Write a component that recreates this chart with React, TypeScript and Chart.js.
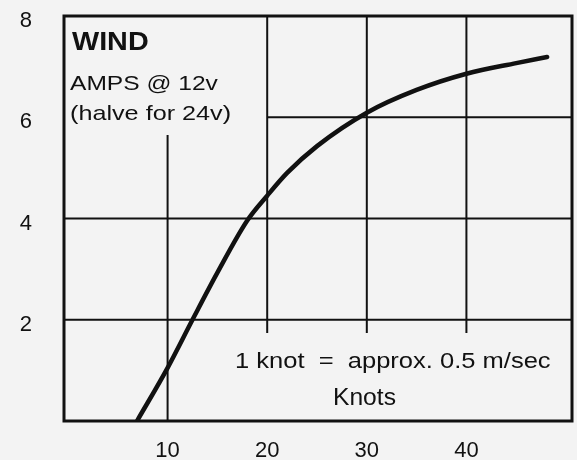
import { useEffect, useRef } from "react";
import { Chart, registerables } from "chart.js";

Chart.register(...registerables);

// ---- data ----
const windKnots = [6.93, 10, 12.5, 15, 18, 20, 22, 25, 30, 35, 40, 45, 48.1];
const ampsAt12v = [0, 1.05, 2.0, 2.93, 3.96, 4.45, 4.9, 5.43, 6.09, 6.54, 6.86, 7.07, 7.19];
const xTickValues = [10, 20, 30, 40];
const yTickValues = [2, 4, 6, 8];
const titleText = "WIND";
const unitLines = ["AMPS @ 12v", "(halve for 24v)"];
const conversionNote = "1 knot  =  approx. 0.5 m/sec";
const xAxisTitle = "Knots";

const INK = "#111111";
const FONT = "'Liberation Sans', Arial, Helvetica, sans-serif";

function drawStretched(
  ctx: CanvasRenderingContext2D,
  text: string,
  x: number,
  baseline: number,
  font: string,
  sx: number
) {
  ctx.save();
  ctx.font = font;
  ctx.fillStyle = INK;
  ctx.textAlign = "left";
  ctx.textBaseline = "alphabetic";
  ctx.translate(x, baseline);
  ctx.scale(sx, 1);
  ctx.fillText(text, 0, 0);
  ctx.restore();
}

const gridPlugin = {
  id: "partialGrid",
  beforeDatasetsDraw(chart: any) {
    const { ctx, chartArea, scales } = chart;
    const xs = scales.x;
    const ys = scales.y;
    const xMin = xs.min;
    const xMax = xs.max;
    ctx.save();
    ctx.strokeStyle = INK;
    ctx.lineWidth = 2;
    const vSegs = [
      { v: 10, a: 0, b: 5.65 },
      { v: 20, a: 1.74, b: 8 },
      { v: 30, a: 1.74, b: 8 },
      { v: 40, a: 1.74, b: 8 },
    ];
    const hSegs = [
      { v: 2, a: xMin, b: xMax },
      { v: 4, a: xMin, b: xMax },
      { v: 6, a: 20, b: xMax },
    ];
    vSegs.forEach((s) => {
      const px = xs.getPixelForValue(s.v);
      ctx.beginPath();
      ctx.moveTo(px, ys.getPixelForValue(s.a));
      ctx.lineTo(px, ys.getPixelForValue(s.b));
      ctx.stroke();
    });
    hSegs.forEach((s) => {
      const py = ys.getPixelForValue(s.v);
      ctx.beginPath();
      ctx.moveTo(xs.getPixelForValue(s.a), py);
      ctx.lineTo(xs.getPixelForValue(s.b), py);
      ctx.stroke();
    });
    ctx.lineWidth = 3;
    ctx.strokeRect(
      chartArea.left,
      chartArea.top,
      chartArea.right - chartArea.left,
      chartArea.bottom - chartArea.top
    );
    ctx.restore();
  },
  afterDraw(chart: any) {
    const { ctx, chartArea } = chart;
    const L = chartArea.left;
    const T = chartArea.top;
    drawStretched(ctx, titleText, L + 8, T + 34, `bold 25px ${FONT}`, 1.15);
    drawStretched(ctx, unitLines[0], L + 6, T + 74, `21px ${FONT}`, 1.17);
    drawStretched(ctx, unitLines[1], L + 6, T + 104, `21px ${FONT}`, 1.2);
    drawStretched(ctx, conversionNote, L + 171, T + 352, `22px ${FONT}`, 1.16);
    drawStretched(ctx, xAxisTitle, L + 269, T + 389, `23px ${FONT}`, 1.07);
  },
};

const bgPlugin = {
  id: "bg",
  beforeDraw(chart: any) {
    const { ctx, width, height } = chart;
    ctx.save();
    ctx.fillStyle = "#f3f3f3";
    ctx.fillRect(0, 0, width, height);
    ctx.restore();
  },
};

export default function App() {
  const canvasRef = useRef<HTMLCanvasElement | null>(null);

  useEffect(() => {
    document.body.style.margin = "0";
    const canvas = canvasRef.current;
    if (!canvas) return;
    const points = windKnots.map((k, i) => ({ x: k, y: ampsAt12v[i] }));
    const chart = new Chart(canvas, {
      type: "line",
      data: {
        datasets: [
          {
            data: points,
            borderColor: INK,
            borderWidth: 4.5,
            pointRadius: 0,
            cubicInterpolationMode: "monotone",
            borderCapStyle: "round",
            fill: false,
          } as any,
        ],
      },
      options: {
        animation: false,
        responsive: false,
        maintainAspectRatio: false,
        layout: { padding: { left: 0, top: 16, right: 5, bottom: 0 } },
        plugins: {
          legend: { display: false },
          tooltip: { enabled: false },
          title: { display: false },
        },
        scales: {
          x: {
            type: "linear",
            min: -0.4,
            max: 50.6,
            grid: { display: false, drawTicks: false },
            border: { display: false },
            afterBuildTicks: (scale: any) => {
              scale.ticks = xTickValues.map((v) => ({ value: v }));
            },
            afterFit: (scale: any) => {
              scale.height = 39;
              scale.paddingLeft = 0;
              scale.paddingRight = 0;
            },
            ticks: {
              padding: 17,
              color: INK,
              font: { family: FONT, size: 22 },
              maxRotation: 0,
              autoSkip: false,
            },
          },
          y: {
            type: "linear",
            min: 0,
            max: 8,
            grid: { display: false, drawTicks: false },
            border: { display: false },
            afterBuildTicks: (scale: any) => {
              scale.ticks = yTickValues.map((v) => ({ value: v }));
            },
            afterFit: (scale: any) => {
              scale.width = 64;
              scale.paddingTop = 0;
              scale.paddingBottom = 0;
            },
            ticks: {
              padding: 32,
              labelOffset: 5,
              color: INK,
              font: { family: FONT, size: 22 },
              autoSkip: false,
            },
          },
        },
      },
      plugins: [bgPlugin, gridPlugin],
    });
    return () => chart.destroy();
  }, []);

  return (
    <div style={{ width: 577, height: 460 }}>
      <canvas ref={canvasRef} width={577} height={460} style={{ display: "block" }} />
    </div>
  );
}
